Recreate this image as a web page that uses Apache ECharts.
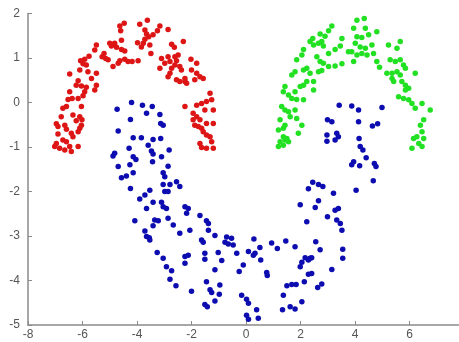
<!DOCTYPE html>
<html>
<head>
<meta charset="utf-8">
<script src="https://cdn.jsdelivr.net/npm/echarts@6/dist/echarts.min.js"></script>
<style>
html,body{margin:0;padding:0;background:#fff;}
#chart{width:459px;height:342px;}
</style>
</head>
<body>
<div id="chart"></div>
<script>
var xTicks = [-8, -6, -4, -2, 0, 2, 4, 6, 8];
var yTicks = [-5, -4, -3, -2, -1, 0, 1, 2];

var redX = [-4.47,-4.63,-4.60,-4.82,-5.00,-4.94,-4.75,-4.57,-4.45,-4.57,-4.18,-4.33,-4.45,-4.63,-4.69,-4.88,-5.06,-5.15,-5.28,-5.21,-5.49,-5.55,-5.76,-5.92,-6.07,-5.98,-5.86,-6.10,-5.80,-5.49,-6.47,-6.16,-6.23,-6.04,-5.86,-5.92,-5.67,-5.49,-5.55,-6.47,-6.38,-6.53,-6.59,-6.16,-5.98,-6.04,-6.72,-6.78,-6.35,-6.10,-6.02,-6.23,-6.96,-6.90,-6.65,-6.59,-6.04,-6.10,-6.16,-6.41,-6.35,-6.90,-6.72,-6.59,-6.96,-7.02,-6.84,-6.47,-6.16,-6.65,-6.41,
  -3.90,-3.62,-3.71,-3.65,-3.57,-3.71,-3.77,-3.84,-3.98,-3.16,-3.25,-2.86,-3.41,-3.53,-3.96,-3.49,-2.73,-2.63,-2.30,-3.10,-2.86,-2.79,-2.98,-3.16,-2.61,-2.49,-2.55,-2.61,-2.43,-2.37,-2.73,-2.79,-2.86,-2.55,-2.43,-2.24,-2.24,-2.18,-2.02,-1.81,-2.00,-1.81,-1.69,-1.57,-1.88,-1.32,-1.26,-1.45,-1.63,-1.81,-2.24,-1.51,-1.20,-1.94,-1.81,-1.69,-1.94,-1.88,-1.75,-1.63,-1.45,-1.20,-1.57,-1.45,-1.32,-1.26,-1.69,-1.63,-1.45,-1.20];
var redY = [1.78,1.72,1.61,1.33,1.33,1.27,1.24,1.40,1.16,1.19,0.92,0.92,0.97,0.94,0.88,0.81,0.96,0.99,1.03,1.10,1.29,1.18,1.04,0.97,0.94,0.87,0.84,0.73,0.69,0.66,0.64,0.49,0.39,0.37,0.34,0.24,0.54,0.39,0.28,0.24,0.09,0.07,-0.09,0.09,0.15,-0.09,-0.13,-0.32,-0.28,-0.32,-0.39,-0.41,-0.48,-0.54,-0.51,-0.60,-0.51,-0.58,-0.66,-0.69,-0.77,-0.71,-0.84,-0.88,-0.92,-0.99,-1.03,-0.99,-0.99,-1.07,-1.10,
  1.76,1.85,1.63,1.54,1.48,1.42,1.33,1.25,1.34,1.72,1.61,1.64,1.52,1.29,0.94,1.10,1.31,1.24,1.37,0.99,1.03,0.92,0.88,0.77,1.03,1.07,0.94,0.84,0.81,0.73,0.77,0.66,0.58,0.51,0.47,0.47,0.54,0.43,0.97,0.88,0.73,0.66,0.58,0.54,0.51,0.21,0.06,0.02,-0.02,-0.06,-0.09,-0.17,-0.17,-0.24,-0.32,-0.39,-0.39,-0.51,-0.54,-0.58,-0.47,-0.47,-0.66,-0.73,-0.77,-0.88,-0.92,-1.01,-1.03,-1.03];

var greenX = [3.15,3.03,2.90,2.72,2.45,2.35,2.48,2.66,2.78,2.84,3.52,3.46,3.27,2.11,2.05,3.03,2.60,2.72,2.84,3.76,3.95,1.86,2.23,2.11,2.35,1.80,1.68,2.66,2.78,3.03,3.27,3.52,2.23,2.11,1.99,2.48,1.43,1.37,1.56,1.80,1.68,2.11,1.86,2.48,1.31,1.43,1.56,1.80,1.86,1.62,1.25,1.43,1.37,1.19,2.05,1.92,1.37,1.43,1.50,1.56,1.25,1.37,1.19,
  4.07,4.34,3.95,4.38,4.50,4.80,4.07,4.25,4.01,4.19,4.38,4.62,4.68,4.44,4.25,4.07,3.88,5.23,5.66,5.54,5.29,5.48,5.66,5.78,5.85,4.80,4.90,5.17,5.36,5.54,5.66,5.36,5.42,5.72,5.85,5.97,5.85,6.21,5.60,5.78,5.97,6.09,6.21,6.46,6.76,6.52,6.40,6.46,6.27,6.15,6.52,6.34,6.46,6.09];
var greenY = [1.72,1.61,1.49,1.54,1.44,1.37,1.29,1.33,1.37,1.27,1.44,1.27,1.19,1.19,1.07,1.10,1.03,0.92,0.88,1.14,0.92,0.96,0.77,0.73,0.66,0.69,0.62,0.69,0.72,0.81,0.82,0.87,0.47,0.39,0.36,0.47,0.36,0.24,0.17,0.24,0.09,0.06,0.07,0.28,-0.09,-0.17,-0.21,-0.17,-0.36,-0.32,-0.39,-0.51,-0.58,-0.62,-0.51,-0.69,-0.77,-0.84,-0.81,-0.88,-0.88,-0.96,-0.99,
  1.85,1.89,1.67,1.67,1.52,1.59,1.48,1.46,1.33,1.25,1.22,1.29,1.10,1.07,1.10,1.07,1.14,1.29,1.37,1.22,0.96,0.92,0.96,0.84,0.77,0.92,0.79,0.66,0.66,0.69,0.62,0.54,0.47,0.47,0.39,0.32,0.28,0.66,0.13,0.09,0.06,-0.02,-0.13,-0.02,-0.17,-0.39,-0.51,-0.66,-0.77,-0.81,-0.81,-0.92,-0.99,-1.03];

var blueX = [-4.20,-3.80,-3.44,-4.73,-3.65,-3.16,-4.24,-3.13,-3.04,-4.69,-4.14,-3.84,-3.41,-3.13,-3.59,-4.29,-3.47,-2.82,-4.82,-4.88,-4.14,-3.10,-4.04,-3.41,-4.69,-4.26,-3.43,-2.86,-4.14,-3.04,-4.57,-4.39,-2.98,-2.55,-3.04,-2.79,-2.43,-4.24,-2.98,-2.86,-3.53,-3.71,-3.90,-3.41,-3.10,
  -3.65,-3.04,-2.92,-2.24,-2.12,-2.18,-4.08,-3.35,-3.22,-3.41,-2.86,-2.67,-1.69,-1.45,-1.38,-3.71,-3.65,-3.55,-3.53,-2.43,-2.06,-1.38,-1.14,-1.63,-1.57,-0.71,-0.53,-0.77,-0.65,-0.47,0.09,-3.26,-3.04,-2.24,-2.12,-2.24,-1.51,-1.51,-1.02,-0.89,-0.34,-2.92,-2.73,-1.14,-0.10,-0.25,-2.79,-2.57,-1.45,-0.96,-2.00,-1.32,-1.26,-0.98,-1.14,-0.16,0.02,-1.51,-1.42,0.09,0.02,0.09,
  1.99,2.54,3.27,3.39,2.99,2.23,3.33,3.46,3.52,0.29,0.94,1.15,1.46,1.80,2.56,2.72,0.33,0.27,0.51,0.54,3.55,3.55,2.17,2.35,2.41,2.05,1.99,2.29,3.15,0.76,0.78,2.29,2.41,2.14,1.50,1.68,1.84,2.78,2.63,1.37,0.39,2.05,1.34,1.62,1.80,0.45,
  3.42,3.88,4.13,2.99,3.15,4.13,3.33,2.97,3.39,3.27,2.97,4.15,4.19,4.29,4.41,3.95,3.88,4.17,2.45,2.66,2.82,2.29,3.21,4.04,2.66,
  4.99,4.64,4.83,4.71,4.77,4.67];
var blueY = [0.00,-0.06,-0.09,-0.15,-0.24,-0.27,-0.38,-0.47,-0.51,-0.64,-0.79,-0.79,-0.83,-0.81,-0.96,-1.03,-1.09,-1.07,-1.14,-1.20,-1.22,-1.22,-1.28,-1.16,-1.44,-1.40,-1.33,-1.43,-1.58,-1.58,-1.69,-1.65,-1.67,-1.78,-1.84,-1.84,-1.89,-1.93,-2.00,-2.00,-1.97,-2.08,-2.17,-2.24,-2.24,
  -2.38,-2.34,-2.38,-2.34,-2.38,-2.49,-2.66,-2.64,-2.66,-2.77,-2.60,-2.75,-2.54,-2.66,-2.72,-2.89,-3.01,-3.04,-3.09,-2.94,-2.87,-2.87,-2.99,-3.09,-3.14,-3.02,-3.05,-3.14,-3.18,-3.20,-3.35,-3.37,-3.50,-3.46,-3.43,-3.61,-3.39,-3.52,-3.37,-3.55,-3.39,-3.69,-3.78,-3.76,-3.65,-3.80,-3.97,-4.12,-4.03,-4.10,-4.24,-4.21,-4.27,-4.31,-4.46,-4.33,-4.42,-4.54,-4.59,-4.51,-4.78,-4.87,
  -2.30,-2.36,-2.42,-2.38,-2.57,-2.68,-2.64,-2.72,-2.87,-3.07,-3.16,-3.28,-3.11,-3.24,-3.13,-3.31,-3.39,-3.43,-3.26,-3.54,-3.30,-3.50,-3.49,-3.50,-3.49,-3.59,-3.69,-3.54,-3.75,-3.82,-3.89,-3.86,-3.84,-4.03,-4.12,-4.09,-4.09,-4.08,-4.16,-4.33,-4.66,-4.48,-4.66,-4.59,-4.64,-4.85,
  -0.06,-0.08,-0.17,-0.39,-0.43,-0.43,-0.69,-0.73,-0.77,-0.84,-0.87,-0.81,-0.99,-1.07,-1.24,-1.33,-1.40,-1.42,-1.79,-1.84,-1.89,-1.94,-2.04,-1.97,-2.21,
  -0.11,-0.53,-0.48,-1.37,-1.44,-1.76];

function pairs(xs, ys) {
  var out = [];
  for (var i = 0; i < xs.length; i++) out.push([xs[i], ys[i]]);
  return out;
}

var chart = echarts.init(document.getElementById('chart'), null, {renderer: 'canvas'});
var axisColor = '#8a8a8a';
var labelStyle = {color: '#555', fontSize: 12, fontFamily: 'Liberation Sans, Arial, sans-serif'};
chart.setOption({
  animation: false,
  backgroundColor: '#ffffff',
  grid: {left: 28, right: -5, top: 13.5, bottom: 17, containLabel: false, outerBoundsMode: 'none'},
  xAxis: {
    type: 'value', min: xTicks[0], max: xTicks[xTicks.length - 1], interval: 2,
    axisLine: {show: true, onZero: false, lineStyle: {color: axisColor, width: 1.5}},
    axisTick: {show: true, inside: true, length: 4, lineStyle: {color: axisColor}},
    axisLabel: Object.assign({margin: 4, hideOverlap: false}, labelStyle),
    splitLine: {show: false}
  },
  yAxis: {
    type: 'value', min: yTicks[0], max: yTicks[yTicks.length - 1], interval: 1,
    axisLine: {show: true, onZero: false, lineStyle: {color: axisColor, width: 1.5}},
    axisTick: {show: true, inside: true, length: 4, lineStyle: {color: axisColor}},
    axisLabel: Object.assign({margin: 8}, labelStyle),
    splitLine: {show: false}
  },
  series: [
    {type: 'scatter', data: pairs(redX, redY), symbolSize: 5.5, itemStyle: {color: '#dd1515', opacity: 1}},
    {type: 'scatter', data: pairs(greenX, greenY), symbolSize: 5.5, itemStyle: {color: '#22e022', opacity: 1}},
    {type: 'scatter', data: pairs(blueX, blueY), symbolSize: 5.5, itemStyle: {color: '#0c0cb0', opacity: 1}}
  ]
});
</script>
</body>
</html>
